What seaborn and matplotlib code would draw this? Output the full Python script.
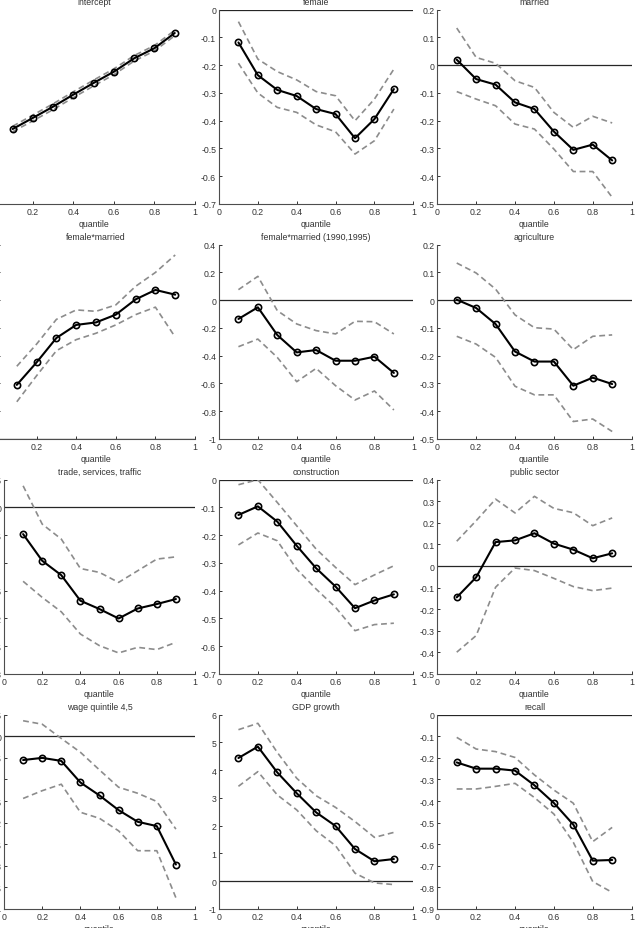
import matplotlib
matplotlib.use("Agg")
import matplotlib.pyplot as plt
import matplotlib.ticker as mticker
import numpy as np
import pandas as pd
import seaborn as sns

sns.set_style("ticks")
plt.rcParams['font.family'] = ['Liberation Sans Narrow', 'Liberation Sans', 'DejaVu Sans']
plt.rcParams['axes.unicode_minus'] = False

quantiles = [0.1, 0.2, 0.3, 0.4, 0.5, 0.6, 0.7, 0.8, 0.9]

# estimates and confidence bands, one set per coefficient
intercept_est = [1.965, 2.108, 2.253, 2.408, 2.558, 2.703, 2.875, 3.005, 3.2]
intercept_hi = [2.00, 2.145, 2.29, 2.445, 2.595, 2.74, 2.91, 3.04, 3.235]
intercept_lo = [1.93, 2.07, 2.215, 2.37, 2.52, 2.665, 2.84, 2.97, 3.165]

female_est = [-0.118, -0.236, -0.289, -0.311, -0.358, -0.376, -0.463, -0.394, -0.286]
female_hi = [-0.043, -0.178, -0.223, -0.253, -0.295, -0.31, -0.4, -0.322, -0.214]
female_lo = [-0.193, -0.3, -0.352, -0.37, -0.415, -0.44, -0.52, -0.472, -0.358]

married_est = [0.02, -0.05, -0.07, -0.134, -0.158, -0.239, -0.305, -0.286, -0.343]
married_hi = [0.134, 0.028, 0.007, -0.056, -0.08, -0.17, -0.224, -0.184, -0.208]
married_lo = [-0.095, -0.122, -0.146, -0.212, -0.23, -0.302, -0.383, -0.383, -0.476]

fem_mar_est = [0.195, 0.276, 0.364, 0.411, 0.42, 0.448, 0.503, 0.537, 0.52]
fem_mar_hi = [0.262, 0.342, 0.431, 0.465, 0.46, 0.483, 0.55, 0.6, 0.663]
fem_mar_lo = [0.134, 0.228, 0.318, 0.358, 0.381, 0.411, 0.448, 0.475, 0.367]

fem_mar_9095_est = [-0.135, -0.051, -0.251, -0.376, -0.359, -0.436, -0.436, -0.407, -0.524]
fem_mar_9095_hi = [0.076, 0.172, -0.075, -0.171, -0.219, -0.243, -0.152, -0.155, -0.243]
fem_mar_9095_lo = [-0.335, -0.28, -0.412, -0.587, -0.491, -0.616, -0.719, -0.654, -0.791]

agric_est = [0.002, -0.028, -0.086, -0.185, -0.221, -0.221, -0.308, -0.279, -0.302]
agric_hi = [0.134, 0.098, 0.04, -0.053, -0.099, -0.104, -0.178, -0.13, -0.125]
agric_lo = [-0.13, -0.158, -0.206, -0.31, -0.341, -0.341, -0.437, -0.428, -0.473]

trade_est = [-0.048, -0.096, -0.122, -0.168, -0.183, -0.2, -0.182, -0.174, -0.165]
trade_hi = [0.039, -0.03, -0.057, -0.11, -0.117, -0.135, -0.114, -0.093, -0.089]
trade_lo = [-0.133, -0.162, -0.188, -0.228, -0.249, -0.262, -0.252, -0.256, -0.243]

constr_est = [-0.127, -0.096, -0.151, -0.238, -0.319, -0.385, -0.463, -0.435, -0.413]
constr_hi = [-0.018, 0.0, -0.082, -0.166, -0.25, -0.316, -0.378, -0.343, -0.31]
constr_lo = [-0.235, -0.192, -0.22, -0.322, -0.394, -0.46, -0.544, -0.522, -0.517]

public_est = [-0.145, -0.052, 0.111, 0.119, 0.152, 0.104, 0.076, 0.036, 0.059]
public_hi = [0.115, 0.21, 0.31, 0.246, 0.323, 0.267, 0.247, 0.187, 0.223]
public_lo = [-0.399, -0.322, -0.098, -0.009, -0.021, -0.057, -0.095, -0.114, -0.102]

wage45_est = [-0.055, -0.05, -0.057, -0.107, -0.137, -0.171, -0.198, -0.208, -0.297]
wage45_hi = [0.036, 0.028, -0.005, -0.037, -0.078, -0.118, -0.132, -0.151, -0.215]
wage45_lo = [-0.144, -0.126, -0.111, -0.176, -0.19, -0.219, -0.265, -0.265, -0.374]

gdp_est = [4.44, 4.85, 3.92, 3.17, 2.48, 1.99, 1.16, 0.72, 0.80]
gdp_hi = [5.46, 5.69, 4.64, 3.71, 3.08, 2.66, 2.15, 1.58, 1.76]
gdp_lo = [3.42, 3.95, 3.11, 2.57, 1.82, 1.28, 0.29, -0.06, -0.12]

recall_est = [-0.221, -0.25, -0.25, -0.259, -0.327, -0.409, -0.509, -0.676, -0.673]
recall_hi = [-0.105, -0.159, -0.171, -0.198, -0.279, -0.349, -0.41, -0.588, -0.522]
recall_lo = [-0.344, -0.344, -0.332, -0.318, -0.384, -0.46, -0.591, -0.773, -0.823]

titles = ['intercept', 'female', 'married',
          'female*married', 'female*married (1990,1995)', 'agriculture',
          'trade, services, traffic', 'construction', 'public sector',
          'wage quintile 4,5', 'GDP growth', 'recall']
estimates = [intercept_est, female_est, married_est,
             fem_mar_est, fem_mar_9095_est, agric_est,
             trade_est, constr_est, public_est,
             wage45_est, gdp_est, recall_est]
uppers = [intercept_hi, female_hi, married_hi,
          fem_mar_hi, fem_mar_9095_hi, agric_hi,
          trade_hi, constr_hi, public_hi,
          wage45_hi, gdp_hi, recall_hi]
lowers = [intercept_lo, female_lo, married_lo,
          fem_mar_lo, fem_mar_9095_lo, agric_lo,
          trade_lo, constr_lo, public_lo,
          wage45_lo, gdp_lo, recall_lo]
# y axis: (min, max, step)
yaxes = [(1.0, 3.5, 0.5), (-0.7, 0.0, 0.1), (-0.5, 0.2, 0.1),
         (0.0, 0.7, 0.1), (-1.0, 0.4, 0.2), (-0.5, 0.2, 0.1),
         (-0.3, 0.05, 0.05), (-0.7, 0.0, 0.1), (-0.5, 0.4, 0.1),
         (-0.4, 0.05, 0.05), (-1.0, 6.0, 1.0), (-0.9, 0.0, 0.1)]


def tick_fmt(v, pos):
    v = round(v, 3)
    if abs(v) < 1e-9:
        return '0'
    return '%g' % v


W, H = 637, 929
fig = plt.figure(figsize=(W / 100, H / 100), dpi=100)

row_tops = [10.7, 245.7, 480.7, 715.7]
first_col_left = [-7.6, -3.0, 4.0, 4.0]
size = 194.3

for i, title in enumerate(titles):
    r, c = divmod(i, 3)
    if c == 0:
        left = first_col_left[r]
        width = 195.0 - left
    else:
        left = [0, 219.0, 437.3][c]
        width = size
    top = row_tops[r]
    ax = fig.add_axes([left / W, 1 - (top + size) / H, width / W, size / H])

    df = pd.DataFrame({'q': quantiles, 'est': estimates[i],
                       'hi': uppers[i], 'lo': lowers[i]})
    ymin, ymax, step = yaxes[i]
    ax.axhline(0, color='0.15', lw=0.9, zorder=1)
    for col in ['hi', 'lo']:
        sns.lineplot(data=df, x='q', y=col, ax=ax, color='0.55',
                     linestyle='--', linewidth=1.2, zorder=2)
        ax.lines[-1].set_dashes((3.5, 2.2))
    sns.lineplot(data=df, x='q', y='est', ax=ax, color='black', linewidth=1.5,
                 marker='o', markersize=4.5, markerfacecolor='none',
                 markeredgecolor='black', markeredgewidth=1.2, zorder=3)

    ax.set_xlim(0, 1)
    ax.set_ylim(ymin, ymax)
    ax.set_xticks([0, 0.2, 0.4, 0.6, 0.8, 1.0])
    ax.set_yticks(np.round(np.arange(ymin, ymax + step / 2, step), 3))
    ax.xaxis.set_major_formatter(mticker.FuncFormatter(tick_fmt))
    ax.yaxis.set_major_formatter(mticker.FuncFormatter(tick_fmt))
    ax.tick_params(direction='in', length=2.5, width=0.7, labelsize=6.3,
                   colors='0.2', pad=2)
    for side in ['top', 'right']:
        ax.spines[side].set_visible(False)
    for side in ['left', 'bottom']:
        ax.spines[side].set_color('0.3')
        ax.spines[side].set_linewidth(0.8)
    ax.set_title(title, fontsize=6.3, color='0.2', pad=4)
    ax.set_xlabel('quantile', fontsize=6.3, color='0.2', labelpad=2)
    ax.set_ylabel('')

fig.savefig('out.png', dpi=100)
